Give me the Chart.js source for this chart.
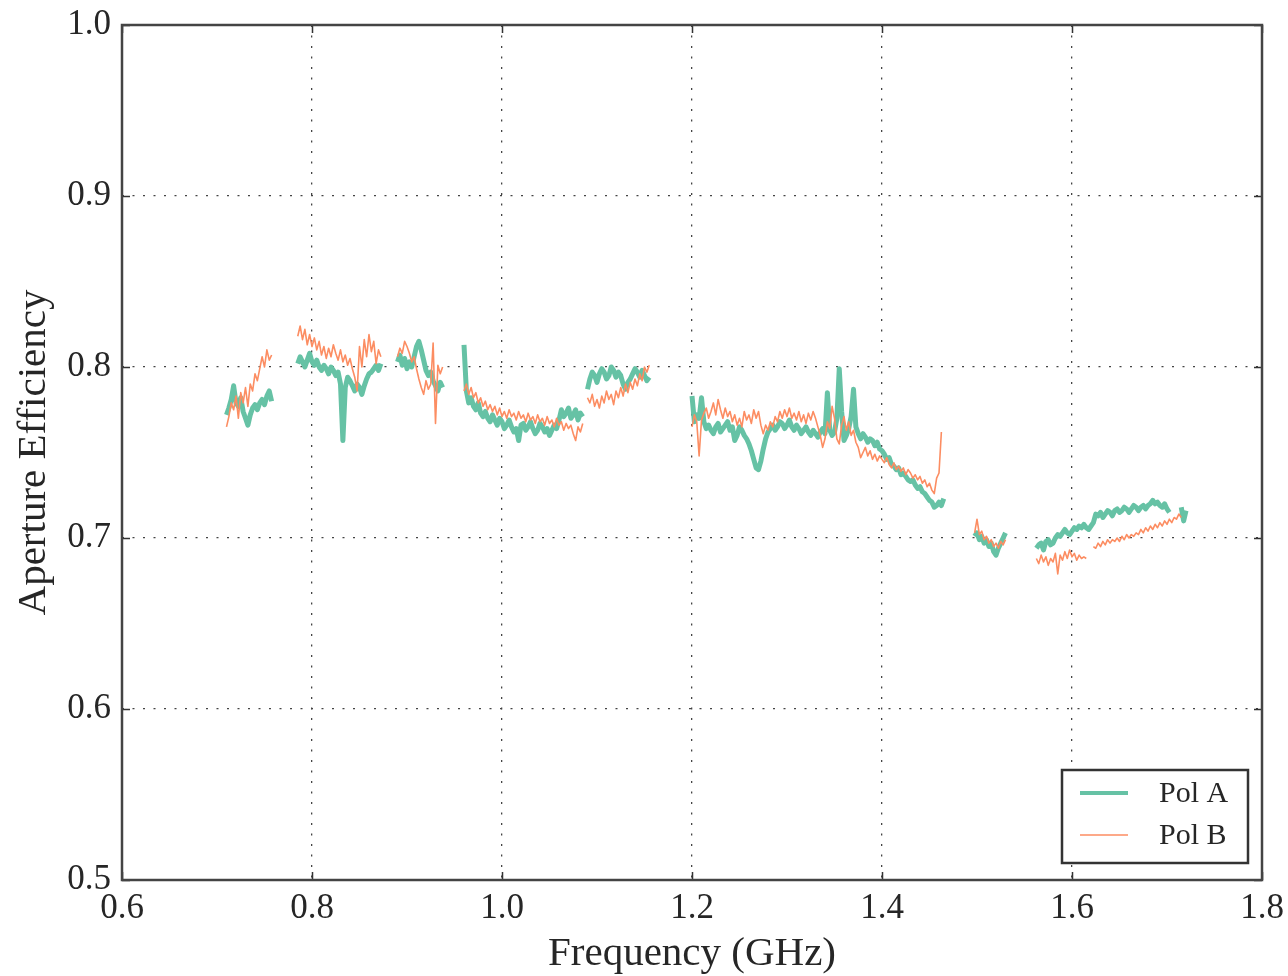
<!DOCTYPE html>
<html>
<head>
<meta charset="utf-8">
<title>Aperture Efficiency</title>
<script src="https://cdn.jsdelivr.net/npm/chart.js@4/dist/chart.umd.min.js"></script>
<style>
  html, body { margin: 0; padding: 0; background: #fff; }
  canvas { display: block; }
</style>
</head>
<body>
<canvas id="chEff" width="1288" height="976"></canvas>
<script>
// ── Datos ─────────────────────────────────────────────────────
// Paso de frecuencia dentro de cada tramo (GHz) y arranque de cada tramo.
const STEP = 0.0025;
const SEG_START = [0.710, 0.785, 0.890, 0.960, 1.090, 1.200, 1.4975, 1.5625];

const X_TICKS = [0.6, 0.8, 1.0, 1.2, 1.4, 1.6, 1.8];
const Y_TICKS = [0.5, 0.6, 0.7, 0.8, 0.9, 1.0];

// Pol A (verde)
const polA_1 = [0.772,0.776,0.781,0.789,0.779,0.777,0.782,0.774,0.770,0.766,0.772,0.776,0.778,0.775,0.779,0.781,0.778,0.783,0.786,0.780];
const polA_2 = [0.802,0.806,0.803,0.800,0.804,0.808,0.803,0.801,0.804,0.800,0.798,0.801,0.799,0.796,0.800,0.798,0.795,0.797,0.790,0.757,
                0.788,0.794,0.792,0.789,0.786,0.790,0.788,0.784,0.789,0.793,0.796,0.797,0.799,0.801,0.798,0.802];
const polA_3 = [0.803,0.807,0.801,0.805,0.799,0.803,0.800,0.806,0.812,0.815,0.810,0.804,0.798,0.795,0.797,0.792,0.789,0.786,0.791,0.788];
const polA_4 = [0.813,0.786,0.779,0.782,0.777,0.775,0.779,0.773,0.771,0.774,0.770,0.768,0.772,0.769,0.766,0.770,0.768,0.764,0.766,0.769,
                0.765,0.762,0.764,0.757,0.766,0.767,0.763,0.765,0.768,0.764,0.761,0.763,0.767,0.765,0.762,0.764,0.760,0.763,0.766,0.764,
                0.769,0.775,0.771,0.773,0.776,0.770,0.772,0.775,0.769,0.773,0.771];
const polA_5 = [0.787,0.793,0.797,0.795,0.791,0.796,0.799,0.797,0.793,0.795,0.800,0.798,0.794,0.797,0.795,0.790,0.787,0.791,0.793,0.796,
                0.799,0.797,0.794,0.798,0.795,0.792,0.794];
const polA_6 = [0.783,0.768,0.772,0.770,0.782,0.768,0.764,0.766,0.763,0.761,0.765,0.767,0.762,0.764,0.766,0.768,0.763,0.765,0.757,0.760,
                0.765,0.763,0.760,0.758,0.755,0.751,0.746,0.741,0.740,0.745,0.752,0.758,0.762,0.764,0.766,0.763,0.765,0.768,0.767,0.764,
                0.766,0.769,0.765,0.763,0.766,0.764,0.761,0.763,0.765,0.762,0.760,0.763,0.761,0.759,0.762,0.764,0.761,0.785,0.763,0.760,
                0.762,0.770,0.799,0.774,0.757,0.760,0.764,0.771,0.787,0.765,0.761,0.758,0.761,0.759,0.756,0.758,0.757,0.754,0.756,0.752,
                0.751,0.749,0.746,0.747,0.743,0.742,0.740,0.741,0.737,0.738,0.736,0.734,0.733,0.734,0.731,0.729,0.730,0.727,0.726,0.724,
                0.722,0.721,0.718,0.719,0.721,0.719,0.723];
const polA_7 = [0.701,0.703,0.699,0.701,0.697,0.699,0.695,0.697,0.692,0.690,0.694,0.697,0.700,0.703];
const polA_8 = [0.694,0.696,0.697,0.693,0.698,0.699,0.696,0.697,0.700,0.702,0.701,0.703,0.705,0.703,0.702,0.704,0.706,0.705,0.707,0.706,
                0.708,0.706,0.705,0.707,0.709,0.714,0.713,0.715,0.712,0.714,0.716,0.715,0.713,0.716,0.717,0.715,0.716,0.718,0.717,0.715,
                0.717,0.719,0.718,0.716,0.718,0.719,0.717,0.719,0.720,0.722,0.720,0.721,0.719,0.718,0.720,0.717,0.715,null,null,null,
                null,0.718,0.710,0.716];

// Pol B (naranja)
const polB_1 = [0.765,0.771,0.779,0.775,0.783,0.770,0.785,0.779,0.788,0.777,0.790,0.786,0.796,0.792,0.799,0.806,0.800,0.810,0.804,0.807];
const polB_2 = [0.818,0.824,0.816,0.822,0.813,0.819,0.812,0.817,0.810,0.815,0.807,0.812,0.805,0.811,0.806,0.813,0.808,0.804,0.810,0.803,
                0.807,0.801,0.805,0.799,0.794,0.786,0.812,0.800,0.816,0.806,0.819,0.809,0.815,0.802,0.810,0.806];
const polB_3 = [0.806,0.811,0.808,0.815,0.812,0.808,0.803,0.806,0.799,0.793,0.788,0.784,0.792,0.787,0.790,0.814,0.767,0.801,0.796,0.800];
const polB_4 = [0.786,0.790,0.784,0.788,0.782,0.785,0.779,0.782,0.777,0.780,0.775,0.778,0.774,0.777,0.772,0.776,0.771,0.774,0.770,0.775,
                0.771,0.773,0.769,0.774,0.770,0.772,0.768,0.773,0.769,0.771,0.767,0.772,0.768,0.770,0.766,0.771,0.767,0.769,0.765,0.770,
                0.766,0.768,0.763,0.767,0.764,0.766,0.761,0.757,0.765,0.762,0.767];
const polB_5 = [0.782,0.779,0.784,0.777,0.781,0.776,0.783,0.779,0.786,0.781,0.784,0.778,0.786,0.782,0.788,0.783,0.790,0.785,0.791,0.787,
                0.793,0.789,0.796,0.792,0.800,0.797,0.801];
const polB_6 = [0.765,0.772,0.768,0.748,0.769,0.773,0.776,0.770,0.774,0.779,0.772,0.781,0.775,0.770,0.776,0.771,0.774,0.768,0.772,0.766,
                0.770,0.765,0.774,0.769,0.772,0.767,0.775,0.770,0.774,0.766,0.761,0.766,0.763,0.768,0.765,0.771,0.768,0.774,0.770,0.775,
                0.771,0.776,0.770,0.773,0.769,0.774,0.768,0.772,0.767,0.773,0.769,0.774,0.770,0.765,0.760,0.753,0.758,0.768,0.764,0.777,
                0.770,0.758,0.755,0.766,0.771,0.763,0.768,0.760,0.763,0.756,0.753,0.747,0.750,0.753,0.748,0.751,0.746,0.749,0.745,0.748,
                0.746,0.744,0.747,0.743,0.741,0.744,0.740,0.742,0.739,0.741,0.737,0.740,0.738,0.735,0.737,0.734,0.736,0.732,0.734,0.730,
                0.732,0.728,0.726,0.735,0.738,0.762,null];
const polB_7 = [0.703,0.711,0.702,0.704,0.699,0.701,0.697,0.699,0.695,0.697,0.694,0.698,0.696,0.699];
const polB_8 = [0.688,0.685,0.690,0.686,0.689,0.684,0.688,0.686,0.691,0.679,0.690,0.687,0.692,0.688,0.693,0.689,0.691,0.687,0.690,0.688,
                0.689,0.688,null,null,0.695,0.694,0.697,0.695,0.698,0.696,0.699,0.697,0.699,0.698,0.700,0.698,0.701,0.699,0.702,0.700,
                0.702,0.701,0.703,0.702,0.705,0.703,0.706,0.704,0.707,0.705,0.708,0.706,0.709,0.707,0.710,0.708,0.711,0.709,0.712,0.711,
                0.714,0.712,null,null];

const POL_A = [polA_1, polA_2, polA_3, polA_4, polA_5, polA_6, polA_7, polA_8];
const POL_B = [polB_1, polB_2, polB_3, polB_4, polB_5, polB_6, polB_7, polB_8];

const COLOR_A = '#66c2a5';
const COLOR_B = '#fc8d62';
const FONT = "'Liberation Serif', 'DejaVu Serif', serif";
const INK = '#262626';

// Une los tramos con un hueco (null) entre ellos para que la línea se corte.
function puntos(segs) {
  const out = [];
  segs.forEach((vals, s) => {
    const f0 = SEG_START[s];
    vals.forEach((v, i) => out.push({ x: f0 + i * STEP, y: v }));
    out.push({ x: f0 + vals.length * STEP, y: null });
  });
  return out;
}

// Sin relleno automático por las etiquetas: el área la fija layout.padding.
function sinPadding(s) {
  s.paddingTop = 0; s.paddingBottom = 0;
  s.paddingLeft = 0; s.paddingRight = 0;
}

const marcoPlugin = {
  id: 'marco',
  afterDraw(chart) {
    const { ctx, chartArea: a, scales: { x, y } } = chart;
    ctx.save();
    // ticks hacia adentro en los cuatro lados
    ctx.strokeStyle = '#333';
    ctx.lineWidth = 1.5;
    ctx.beginPath();
    for (const v of X_TICKS) {
      const px = Math.round(x.getPixelForValue(v)) + 0.5;
      ctx.moveTo(px, a.bottom); ctx.lineTo(px, a.bottom - 8);
      ctx.moveTo(px, a.top); ctx.lineTo(px, a.top + 8);
    }
    for (const v of Y_TICKS) {
      const py = Math.round(y.getPixelForValue(v)) + 0.5;
      ctx.moveTo(a.left, py); ctx.lineTo(a.left + 8, py);
      ctx.moveTo(a.right, py); ctx.lineTo(a.right - 8, py);
    }
    ctx.stroke();
    // marco
    ctx.strokeStyle = '#444';
    ctx.lineWidth = 2.5;
    ctx.strokeRect(a.left, a.top, a.right - a.left, a.bottom - a.top);

    // títulos de los ejes
    ctx.fillStyle = INK;
    ctx.font = '41px ' + FONT;
    ctx.textAlign = 'center';
    ctx.textBaseline = 'alphabetic';
    ctx.fillText('Frequency (GHz)', (a.left + a.right) / 2, 965);
    ctx.save();
    ctx.translate(45, (a.top + a.bottom) / 2);
    ctx.rotate(-Math.PI / 2);
    ctx.fillText('Aperture Efficiency', 0, 0);
    ctx.restore();

    // leyenda
    const bx = a.right - 200, by = a.bottom - 110, bw = 186, bh = 93;
    ctx.fillStyle = '#fff';
    ctx.fillRect(bx, by, bw, bh);
    ctx.strokeStyle = '#333';
    ctx.lineWidth = 2.5;
    ctx.strokeRect(bx, by, bw, bh);
    const items = [chart.data.datasets[1], chart.data.datasets[0]];
    items.forEach((ds, i) => {
      const ly = by + 23 + i * 42;
      ctx.strokeStyle = ds.borderColor;
      ctx.lineWidth = Math.min(ds.borderWidth, 4);
      ctx.beginPath();
      ctx.moveTo(bx + 18, ly); ctx.lineTo(bx + 66, ly);
      ctx.stroke();
      ctx.fillStyle = INK;
      ctx.font = '30px ' + FONT;
      ctx.textAlign = 'left';
      ctx.textBaseline = 'middle';
      ctx.fillText(ds.label, bx + 97, ly + 1);
    });
    ctx.restore();
  }
};

new Chart(document.getElementById('chEff'), {
  type: 'line',
  data: {
    datasets: [
      { label: 'Pol B', data: puntos(POL_B), borderColor: COLOR_B, borderWidth: 1.6,
        borderJoinStyle: 'round', pointRadius: 0, tension: 0, spanGaps: false, order: 0 },
      { label: 'Pol A', data: puntos(POL_A), borderColor: COLOR_A, borderWidth: 5,
        borderJoinStyle: 'round', pointRadius: 0, tension: 0, spanGaps: false, order: 1 }
    ]
  },
  options: {
    responsive: false,
    animation: false,
    events: [],
    layout: { padding: { top: 25, right: 26, left: 0, bottom: 0 } },
    plugins: { legend: { display: false }, tooltip: { enabled: false } },
    scales: {
      x: {
        type: 'linear', min: 0.6, max: 1.8,
        afterBuildTicks: (s) => { s.ticks = X_TICKS.map((v) => ({ value: v })); },
        afterFit: (s) => { s.height = 96; sinPadding(s); },
        ticks: { callback: (v) => v.toFixed(1), font: { family: FONT, size: 35 }, color: INK,
                 padding: 8, maxRotation: 0, autoSkip: false },
        grid: { color: '#444', lineWidth: 1.3, drawTicks: false, tickLength: 0 },
        border: { display: false, dash: [2, 8.5] }
      },
      y: {
        type: 'linear', min: 0.5, max: 1.0,
        afterBuildTicks: (s) => { s.ticks = Y_TICKS.map((v) => ({ value: v })); },
        afterFit: (s) => { s.width = 122; sinPadding(s); },
        ticks: { callback: (v) => v.toFixed(1), font: { family: FONT, size: 35 }, color: INK,
                 padding: 11, autoSkip: false },
        grid: { color: '#444', lineWidth: 1.3, drawTicks: false, tickLength: 0 },
        border: { display: false, dash: [2, 8.5] }
      }
    }
  },
  plugins: [marcoPlugin]
});
</script>
</body>
</html>
